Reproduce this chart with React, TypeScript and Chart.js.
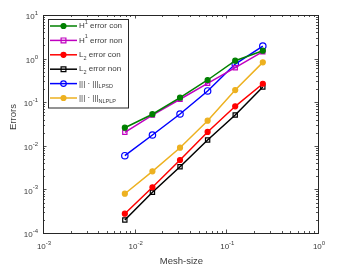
import React, { useEffect, useRef } from "react";
import { Chart, registerables } from "chart.js";

Chart.register(...registerables);

const meshSize = [1 / 128, 1 / 64, 1 / 32, 1 / 16, 1 / 8, 1 / 4];
const h1Con = [0.026, 0.053, 0.127, 0.323, 0.895, 1.52];
const h1Non = [0.0204, 0.0508, 0.117, 0.271, 0.618, 1.44];
const l2Con = [0.000277, 0.00112, 0.00472, 0.0208, 0.0805, 0.265];
const l2Non = [0.000199, 0.000857, 0.00332, 0.0136, 0.0508, 0.223];
const lpsd = [0.00593, 0.0177, 0.0536, 0.181, 0.75, 1.94];
const nlplp = [0.000796, 0.0026, 0.00904, 0.0377, 0.19, 0.82];

const legendLabels = [
  "H^{1} error con",
  "H^{1} error non",
  "L_{2} error con",
  "L_{2} error non",
  "||| · |||_{LPSD}",
  "||| · |||_{NLPLP}",
];
const xTickValues = [0.001, 0.01, 0.1, 1];
const xTickLabels = ["10^{-3}", "10^{-2}", "10^{-1}", "10^{0}"];
const yTickValues = [1e-4, 1e-3, 1e-2, 1e-1, 1, 10];
const yTickLabels = ["10^{-4}", "10^{-3}", "10^{-2}", "10^{-1}", "10^{0}", "10^{1}"];
const xTitle = "Mesh-size";
const yTitle = "Errors";

const FONT = "'Liberation Sans', Arial, sans-serif";
const TEXT = "#3a3a3a";

type Part = { t: string; s: "" | "sup" | "sub" };
function parse(str: string): Part[] {
  const out: Part[] = [];
  const re = /(\^|_)\{([^}]*)\}/g;
  let last = 0;
  let m: RegExpExecArray | null;
  while ((m = re.exec(str))) {
    if (m.index > last) out.push({ t: str.slice(last, m.index), s: "" });
    out.push({ t: m[2], s: m[1] === "^" ? "sup" : "sub" });
    last = re.lastIndex;
  }
  if (last < str.length) out.push({ t: str.slice(last), s: "" });
  return out;
}
function richWidth(ctx: CanvasRenderingContext2D, parts: Part[], size: number, small: number) {
  let w = 0;
  for (const p of parts) {
    ctx.font = `${p.s ? small : size}px ${FONT}`;
    w += ctx.measureText(p.t).width;
  }
  return w;
}
function drawRich(ctx: CanvasRenderingContext2D, parts: Part[], x: number, y: number, size: number, small: number) {
  ctx.textBaseline = "middle";
  ctx.textAlign = "left";
  let cx = x;
  for (const p of parts) {
    ctx.font = `${p.s ? small : size}px ${FONT}`;
    const dy = p.s === "sup" ? -size * 0.45 : p.s === "sub" ? size * 0.4 : 0;
    ctx.fillText(p.t, cx, y + dy);
    cx += ctx.measureText(p.t).width;
  }
}

const seriesStyles = [
  { data: h1Con, color: "#008000", style: "circle", radius: 2.5, fill: true },
  { data: h1Non, color: "#c000c0", style: "rect", radius: 3, fill: false },
  { data: l2Con, color: "#ff0000", style: "circle", radius: 2.5, fill: true },
  { data: l2Non, color: "#000000", style: "rect", radius: 3, fill: false },
  { data: lpsd, color: "#0000ff", style: "circle", radius: 3.2, fill: false },
  { data: nlplp, color: "#edb120", style: "circle", radius: 2.5, fill: true },
];

const framePlugin = {
  id: "frame",
  afterDraw(chart: any) {
    const ctx: CanvasRenderingContext2D = chart.ctx;
    const { left, right, top, bottom } = chart.chartArea;
    const xs = chart.scales.x;
    const ys = chart.scales.y;
    ctx.save();
    ctx.strokeStyle = "#262626";
    ctx.lineWidth = 1;
    ctx.strokeRect(Math.round(left) + 0.5, Math.round(top) + 0.5, Math.round(right - left), Math.round(bottom - top));
    ctx.lineWidth = 0.8;
    ctx.beginPath();
    for (let e = -3; e < 0; e++) {
      for (let k = 1; k <= 9; k++) {
        const v = k * Math.pow(10, e);
        const px = Math.round(xs.getPixelForValue(v)) + 0.5;
        const len = k === 1 ? 3.5 : 2;
        ctx.moveTo(px, bottom); ctx.lineTo(px, bottom - len);
        ctx.moveTo(px, top); ctx.lineTo(px, top + len);
      }
    }
    for (let e = -4; e < 1; e++) {
      for (let k = 1; k <= 9; k++) {
        const v = k * Math.pow(10, e);
        const py = Math.round(ys.getPixelForValue(v)) + 0.5;
        const len = k === 1 ? 3.5 : 2;
        ctx.moveTo(left, py); ctx.lineTo(left + len, py);
        ctx.moveTo(right, py); ctx.lineTo(right - len, py);
      }
    }
    ctx.stroke();

    ctx.fillStyle = TEXT;
    xTickValues.forEach((v, i) => {
      const parts = parse(xTickLabels[i]);
      const px = xs.getPixelForValue(v);
      const w = richWidth(ctx, parts, 8, 6);
      drawRich(ctx, parts, px - w / 2 + 1, bottom + 14, 8, 6);
    });
    yTickValues.forEach((v, i) => {
      const parts = parse(yTickLabels[i]);
      const py = ys.getPixelForValue(v);
      const w = richWidth(ctx, parts, 8, 6);
      drawRich(ctx, parts, left - 5 - w, py + 2, 8, 6);
    });
    ctx.font = `9.5px ${FONT}`;
    ctx.textAlign = "center";
    ctx.textBaseline = "middle";
    ctx.fillText(xTitle, (left + right) / 2 + 1, bottom + 28);
    ctx.save();
    ctx.translate(13, (top + bottom) / 2 - 7);
    ctx.rotate(-Math.PI / 2);
    ctx.fillText(yTitle, 0, 0);
    ctx.restore();

    const lx = left + 5, ly = top + 3.5, lw = 80, lh = 88.5;
    ctx.fillStyle = "#ffffff";
    ctx.fillRect(lx, ly, lw, lh);
    ctx.strokeStyle = "#262626";
    ctx.lineWidth = 1;
    ctx.strokeRect(Math.round(lx) + 0.5, Math.round(ly) + 0.5, lw, lh);
    seriesStyles.forEach((s, i) => {
      const y = ly + 7.5 + i * 14.4;
      ctx.strokeStyle = s.color;
      ctx.lineWidth = 1.5;
      ctx.beginPath();
      ctx.moveTo(lx + 2, y);
      ctx.lineTo(lx + 29, y);
      ctx.stroke();
      const cx = lx + 15.5;
      ctx.lineWidth = 1.2;
      ctx.fillStyle = s.color;
      ctx.beginPath();
      if (s.style === "rect") {
        ctx.rect(cx - s.radius * 0.8, y - s.radius * 0.8, s.radius * 1.6, s.radius * 1.6);
      } else {
        ctx.arc(cx, y, Math.min(s.radius, 2.8), 0, Math.PI * 2);
      }
      if (s.fill) ctx.fill();
      ctx.stroke();
      ctx.fillStyle = TEXT;
      drawRich(ctx, parse(legendLabels[i]), lx + 31, y, 8, 5.5);
    });
    ctx.restore();
  },
};

export default function App() {
  const ref = useRef<HTMLCanvasElement>(null);
  useEffect(() => {
    if (!ref.current) return;
    const chart = new Chart(ref.current, {
      type: "line",
      data: {
        datasets: seriesStyles.map((s, i) => ({
          label: legendLabels[i],
          data: meshSize.map((x, j) => ({ x, y: s.data[j] })),
          borderColor: s.color,
          backgroundColor: s.fill ? s.color : "rgba(0,0,0,0)",
          pointBorderColor: s.color,
          pointBackgroundColor: s.fill ? s.color : "rgba(0,0,0,0)",
          pointStyle: s.style as any,
          pointRadius: s.radius,
          pointBorderWidth: 1.2,
          borderWidth: 1.5,
          tension: 0,
          fill: false,
        })),
      },
      options: {
        animation: false,
        responsive: false,
        maintainAspectRatio: false,
        layout: { padding: { top: 15, right: 23, left: 0, bottom: 0 } },
        plugins: { legend: { display: false }, tooltip: { enabled: false } },
        scales: {
          x: {
            type: "logarithmic",
            min: 0.001,
            max: 1,
            grid: { display: false },
            border: { display: false },
            ticks: { display: false },
            afterFit: (s: any) => { s.height = 35; },
          },
          y: {
            type: "logarithmic",
            min: 1e-4,
            max: 10,
            grid: { display: false },
            border: { display: false },
            ticks: { display: false },
            afterFit: (s: any) => { s.width = 43; },
          },
        },
      },
      plugins: [framePlugin],
    });
    return () => chart.destroy();
  }, []);
  return (
    <div style={{ position: "absolute", left: 0, top: 0, width: 341, height: 268, background: "#fff" }}>
      <canvas ref={ref} width={341} height={268} style={{ width: 341, height: 268 }} />
    </div>
  );
}
